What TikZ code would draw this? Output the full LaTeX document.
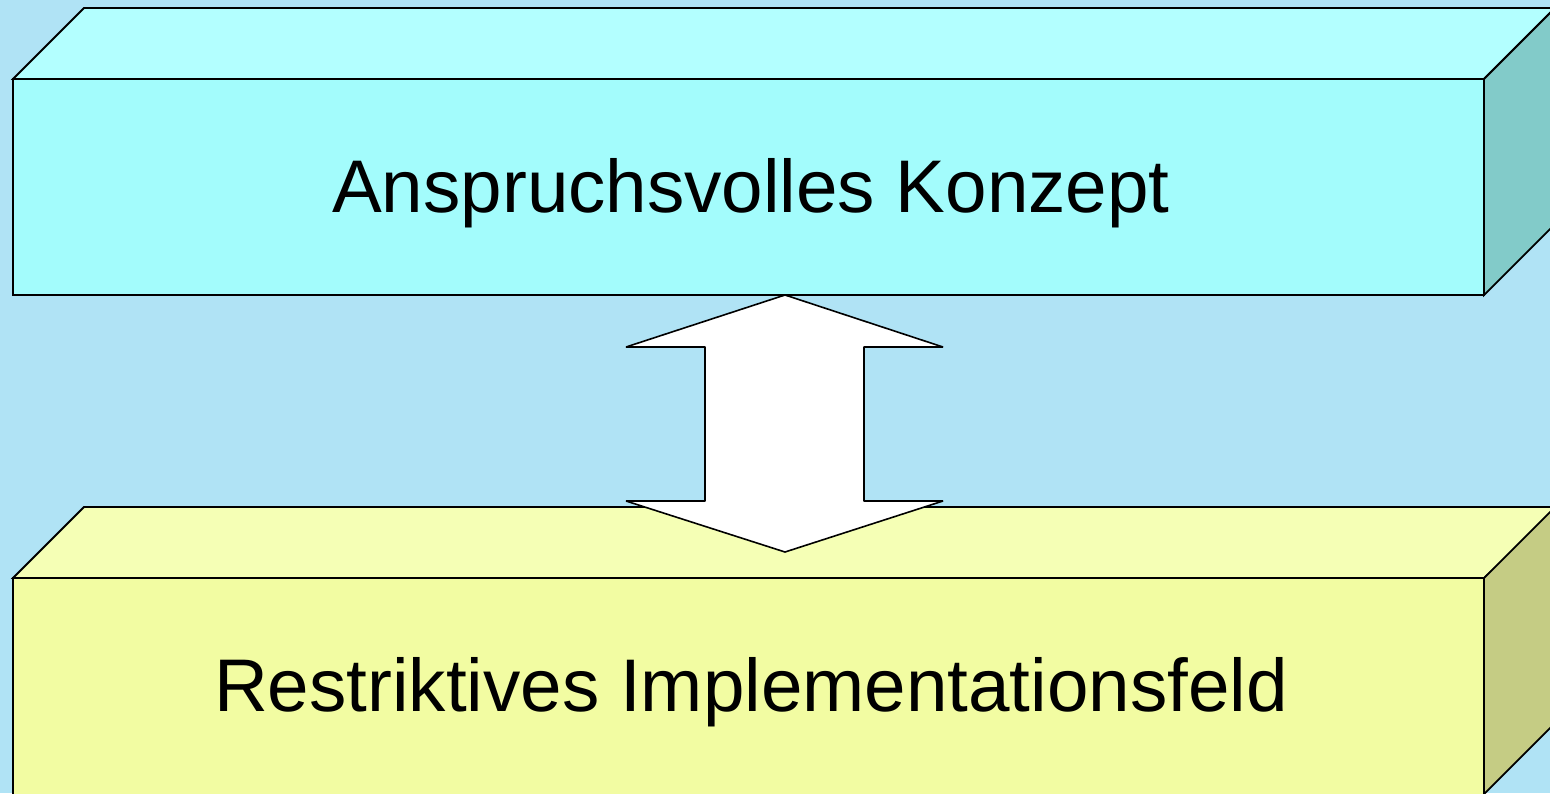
\documentclass[tikz,border=0pt]{standalone}
\usepackage{fontspec}
\setmainfont{Liberation Sans}
\definecolor{bg}{HTML}{B0E3F5}
\definecolor{cyanFront}{HTML}{A3FCFC}
\definecolor{cyanTop}{HTML}{B3FFFF}
\definecolor{cyanSide}{HTML}{82CBC9}
\definecolor{yelFront}{HTML}{F2FCA2}
\definecolor{yelTop}{HTML}{F5FFB5}
\definecolor{yelSide}{HTML}{C5CC84}
\begin{document}
\begin{tikzpicture}[x=1pt,y=-1pt,
  face/.style={draw=black,line width=1.8pt,line join=miter},
  label/.style={font=\fontsize{74.6}{90}\selectfont,anchor=base,inner sep=0pt}]
\useasboundingbox (0,0) rectangle (1550,793);
\clip (0,0) rectangle (1550,793);
\fill[bg] (0,0) rectangle (1550,793);
% top box
\filldraw[face,fill=cyanTop] (13,79) -- (84,8) -- (1560,8) -- (1560,3) -- (1555,8) -- (1484,79) -- cycle;
\filldraw[face,fill=cyanSide] (1484,79) -- (1555,8) -- (1560,8) -- (1560,219) -- (1484,295) -- cycle;
\filldraw[face,fill=cyanFront] (13,79) rectangle (1484,295);
% bottom box
\filldraw[face,fill=yelTop] (13,578) -- (84,507) -- (1560,507) -- (1484,578) -- cycle;
\filldraw[face,fill=yelSide] (1484,578) -- (1560,502) -- (1560,718) -- (1484,794) -- cycle;
\filldraw[face,fill=yelFront] (13,578) rectangle (1484,800);
% texts
\node[label] (konzept) at (751,212) {Anspruchsvolles Konzept};
\node[label] (feld) at (751,711) {Restriktives Implementationsfeld};
% double arrow
\coordinate (tipA) at (785,295);
\coordinate (tipB) at (785,552);
\filldraw[face,fill=white,line width=1.6pt,line join=bevel] (tipA) -- (943,347) -- (864,347) -- (864,501) -- (943,501)
  -- (tipB) -- (626,501) -- (705,501) -- (705,347) -- (626,347) -- cycle;
\end{tikzpicture}
\end{document}
